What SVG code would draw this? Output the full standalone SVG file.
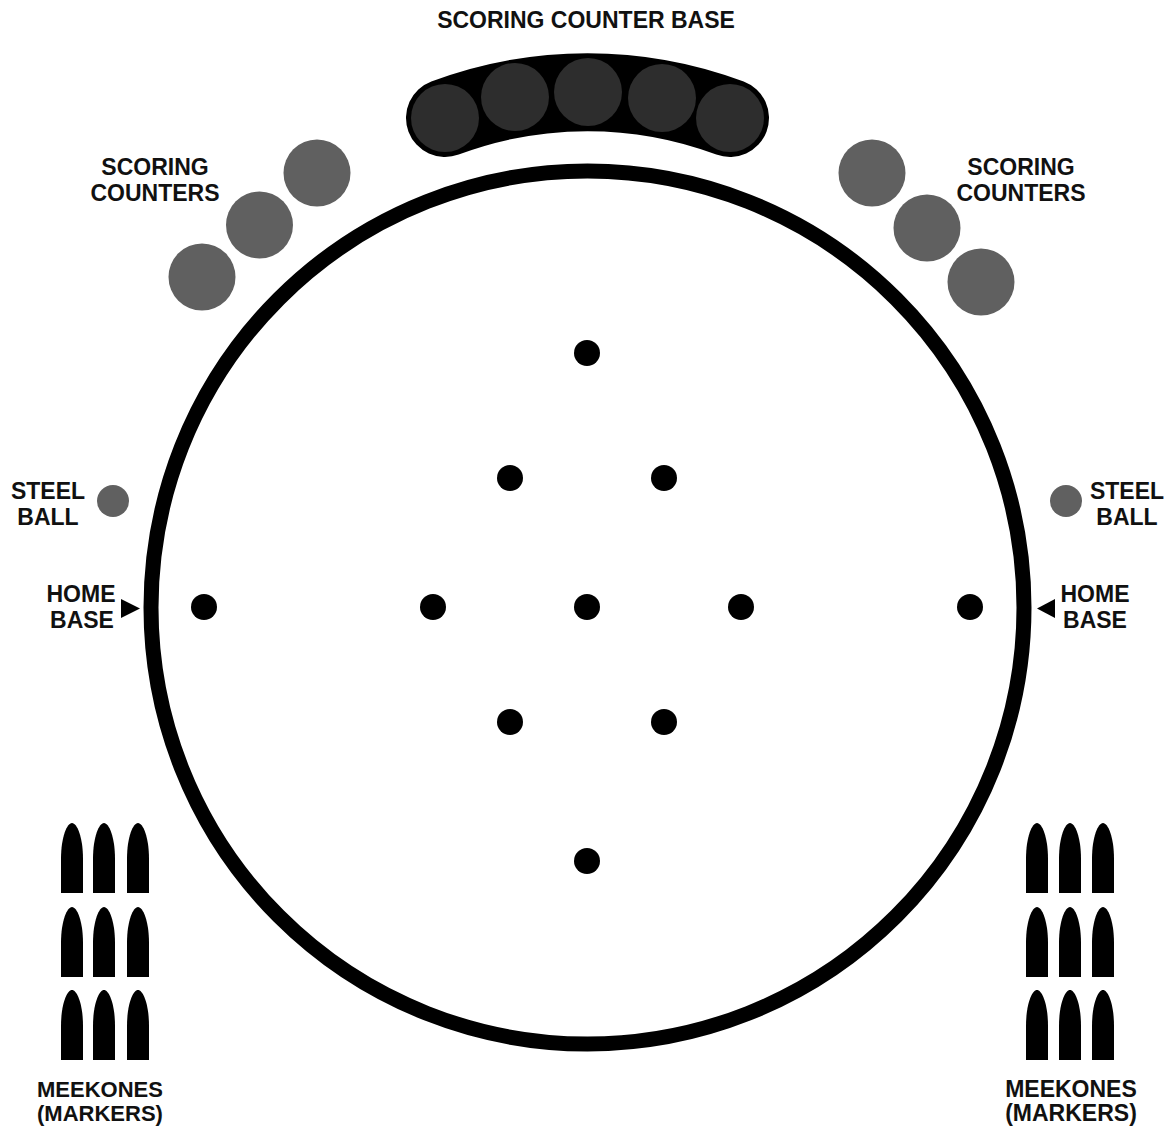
<svg xmlns="http://www.w3.org/2000/svg" width="1172" height="1131" viewBox="0 0 1172 1131">
<defs>
<style>
.lbl{font-family:"Liberation Sans",Arial,Helvetica,sans-serif;font-weight:bold;font-size:23px;fill:#111;text-anchor:middle}
.sm{font-size:22px}
.counter{fill:#606060}
.dot{fill:#000}
.cone{fill:#000}
.base-slot{fill:#2d2d2d}
</style>
<path id="cone" d="M0,70 V36 C0,14 6,0 11,0 C16,0 22,14 22,36 V70 Z"/>
</defs>
<rect width="1172" height="1131" fill="#fff"/>

<g id="board">
<circle cx="587.5" cy="607.5" r="436.5" fill="none" stroke="#000" stroke-width="15"/>
</g>

<g id="holes">
<circle class="dot" cx="587" cy="353" r="13"/>
<circle class="dot" cx="510" cy="478" r="13"/>
<circle class="dot" cx="664" cy="478" r="13"/>
<circle class="dot" cx="204" cy="607" r="13"/>
<circle class="dot" cx="433" cy="607" r="13"/>
<circle class="dot" cx="587" cy="607" r="13"/>
<circle class="dot" cx="741" cy="607" r="13"/>
<circle class="dot" cx="970" cy="607" r="13"/>
<circle class="dot" cx="510" cy="722" r="13"/>
<circle class="dot" cx="664" cy="722" r="13"/>
<circle class="dot" cx="587" cy="861" r="13"/>
</g>

<g id="scoring-counter-base">
<path d="M445,118 A406,406 0 0 1 730,118" fill="none" stroke="#000" stroke-width="78" stroke-linecap="round"/>
<circle class="base-slot" cx="445" cy="118" r="34"/>
<circle class="base-slot" cx="515" cy="97" r="34"/>
<circle class="base-slot" cx="588" cy="92" r="34"/>
<circle class="base-slot" cx="662" cy="98" r="34"/>
<circle class="base-slot" cx="730" cy="118" r="34"/>
<text class="lbl" x="586" y="28">SCORING COUNTER BASE</text>
</g>

<g id="scoring-counters-left">
<circle class="counter" cx="317" cy="173" r="33.5"/>
<circle class="counter" cx="259.5" cy="225" r="33.5"/>
<circle class="counter" cx="202" cy="277" r="33.5"/>
<text class="lbl" x="155" y="175">SCORING</text>
<text class="lbl" x="155" y="201">COUNTERS</text>
</g>

<g id="scoring-counters-right">
<circle class="counter" cx="872" cy="173" r="33.5"/>
<circle class="counter" cx="927" cy="228" r="33.5"/>
<circle class="counter" cx="981" cy="282" r="33.5"/>
<text class="lbl" x="1021" y="175">SCORING</text>
<text class="lbl" x="1021" y="201">COUNTERS</text>
</g>

<g id="steel-ball-left">
<circle class="counter" cx="113" cy="501" r="16"/>
<text class="lbl" x="48" y="499">STEEL</text>
<text class="lbl" x="48" y="525">BALL</text>
</g>

<g id="steel-ball-right">
<circle class="counter" cx="1066" cy="501" r="16"/>
<text class="lbl" x="1127" y="499">STEEL</text>
<text class="lbl" x="1127" y="525">BALL</text>
</g>

<g id="home-base-left">
<polygon points="121,599 121,618 140,608.5" fill="#000"/>
<text class="lbl" x="81" y="602">HOME</text>
<text class="lbl" x="82" y="628">BASE</text>
</g>

<g id="home-base-right">
<polygon points="1055,599 1055,618 1037,608.5" fill="#000"/>
<text class="lbl" x="1095" y="602">HOME</text>
<text class="lbl" x="1095" y="628">BASE</text>
</g>

<g id="meekones-left">
<use href="#cone" x="61" y="823" class="cone"/>
<use href="#cone" x="93" y="823" class="cone"/>
<use href="#cone" x="127" y="823" class="cone"/>
<use href="#cone" x="61" y="907" class="cone"/>
<use href="#cone" x="93" y="907" class="cone"/>
<use href="#cone" x="127" y="907" class="cone"/>
<use href="#cone" x="61" y="990" class="cone"/>
<use href="#cone" x="93" y="990" class="cone"/>
<use href="#cone" x="127" y="990" class="cone"/>
<text class="lbl sm" x="100" y="1097">MEEKONES</text>
<text class="lbl sm" x="100" y="1121">(MARKERS)</text>
</g>

<g id="meekones-right">
<use href="#cone" x="1026" y="823" class="cone"/>
<use href="#cone" x="1059" y="823" class="cone"/>
<use href="#cone" x="1092" y="823" class="cone"/>
<use href="#cone" x="1026" y="907" class="cone"/>
<use href="#cone" x="1059" y="907" class="cone"/>
<use href="#cone" x="1092" y="907" class="cone"/>
<use href="#cone" x="1026" y="990" class="cone"/>
<use href="#cone" x="1059" y="990" class="cone"/>
<use href="#cone" x="1092" y="990" class="cone"/>
<text class="lbl" x="1071" y="1097">MEEKONES</text>
<text class="lbl" x="1071" y="1121">(MARKERS)</text>
</g>

<g id="connectors"></g>
</svg>
